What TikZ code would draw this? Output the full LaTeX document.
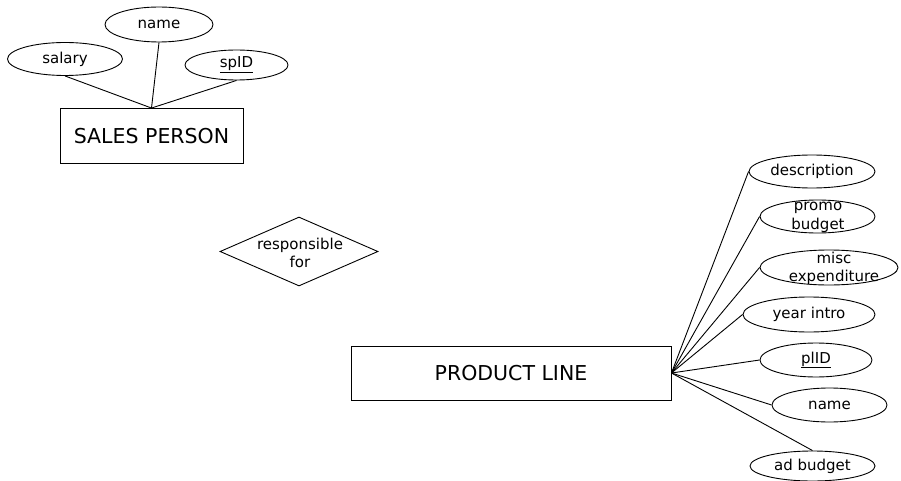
\documentclass[tikz,border=0pt]{standalone}
\usepackage{fontspec}
\setmainfont{DejaVu Sans}
\usetikzlibrary{shapes.geometric}
\def\attrsize{\fontsize{15}{18.5}\selectfont}
\def\entsize{\fontsize{20.5}{24}\selectfont}

\begin{document}
\begin{tikzpicture}[x=1pt, y=-1pt, line width=0.9pt,
    entity/.style={draw, rectangle, inner sep=0pt, font=\entsize},
    attr/.style={draw, ellipse, inner sep=0pt, font=\attrsize},
    rel/.style={draw, diamond, inner sep=0pt},
    attrtext/.style={align=center, inner sep=0pt, font=\attrsize}]
    \useasboundingbox (0,0) rectangle (901,481);

    % Entities.
    \node[entity, minimum width=183pt, minimum height=55pt] (sp) at (151.5,136) {SALES PERSON};
    \node[entity, minimum width=320pt, minimum height=54pt] (pl) at (511,373) {PRODUCT LINE};

    % Relationship (text placed on its own so the diamond keeps its size).
    \node[rel, minimum width=158pt, minimum height=69pt] (resp) at (299,251.5) {};
    \node[attrtext] (resptext) at (300,253) {responsible\\for};

    % Attributes of SALES PERSON.
    \node[attr, minimum width=108pt, minimum height=35pt] (spname) at (159,24.5) {name};
    \node[attr, minimum width=115pt, minimum height=33pt] (salary) at (65,59) {salary};
    \node[attr, minimum width=103pt, minimum height=30pt] (spid) at (236.5,65) {\underline{spID}};

    % Attributes of PRODUCT LINE.
    \node[attr, minimum width=126pt, minimum height=33pt] (desc) at (812,171.5) {description};
    \node[attr, minimum width=115pt, minimum height=33pt] (promo) at (817.5,216.5) {};
    \node[attrtext] (promotext) at (818,217.5) {promo\\budget};
    \node[attr, minimum width=138pt, minimum height=35pt] (misc) at (829,267.5) {};
    \node[attrtext] (misctext) at (834,268.5) {misc\\expenditure};
    \node[attr, minimum width=132pt, minimum height=35pt] (year) at (809,314.5) {year intro};
    \node[attr, minimum width=112pt, minimum height=34pt] (plid) at (816,360) {\underline{plID}};
    \node[attr, minimum width=115pt, minimum height=34pt] (plname) at (829.5,405) {name};
    \node[attr, minimum width=125pt, minimum height=30pt] (adb) at (812.5,466) {ad budget};

    % Links.
    \foreach \a in {salary,spname,spid}
        \draw (sp.north) -- (\a.south);
    \foreach \a in {desc,promo,misc,year,plid,plname}
        \draw (pl.east) -- (\a.west);
    \draw (pl.east) -- (adb.north);
\end{tikzpicture}
\end{document}
